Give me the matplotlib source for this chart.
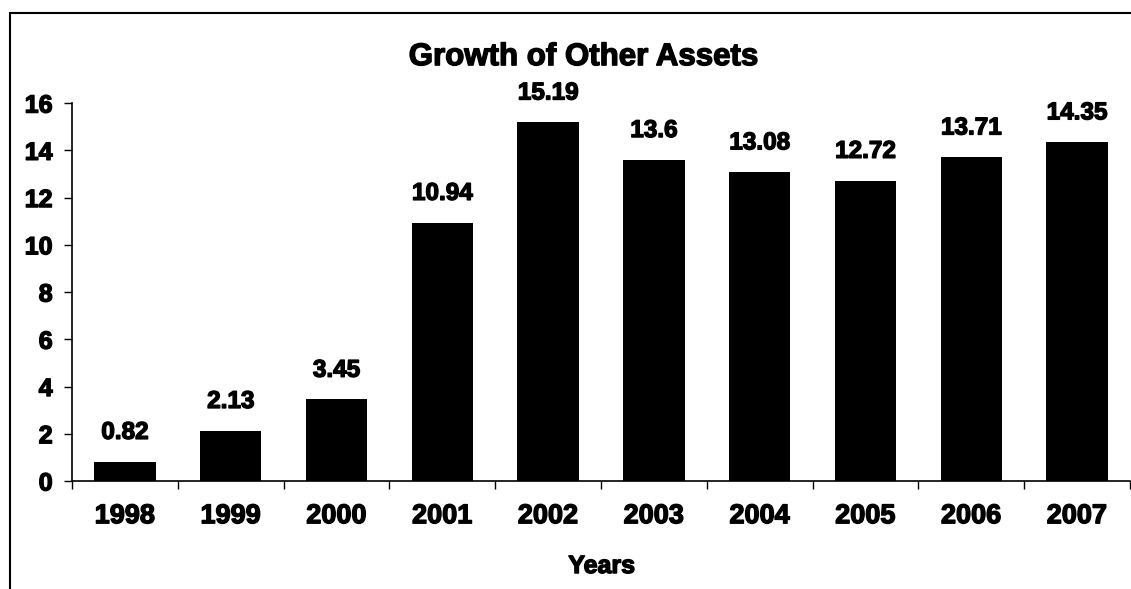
import matplotlib.pyplot as plt
import matplotlib.patheffects as pe
from matplotlib.patches import Rectangle
import numpy as np

years = ['1998', '1999', '2000', '2001', '2002', '2003', '2004', '2005', '2006', '2007']
values = [0.82, 2.13, 3.45, 10.94, 15.19, 13.6, 13.08, 12.72, 13.71, 14.35]

plt.rcParams['font.family'] = ['Liberation Sans', 'DejaVu Sans']
plt.rcParams['font.weight'] = 'bold'

# thicker strokes so the bold text reads heavy
heavy = [pe.withStroke(linewidth=1.0, foreground='black')]

fig = plt.figure(figsize=(11.31, 5.89), dpi=100)
ax = fig.add_axes([0.0637, 0.1834, 0.9353, 0.6416])

x = np.arange(len(years))
bars = ax.bar(x, values, width=0.58, color='black')
for xi, v in zip(x, values):
    ax.text(xi, v + 0.75, f'{v:g}', ha='center', va='bottom', fontsize=17.5,
            fontweight='bold', path_effects=heavy)

ax.set_xlim(-0.5, len(years) - 0.5)
ax.set_ylim(0, 16)
ax.set_yticks(range(0, 17, 2))
ax.set_xticks(x)
ax.set_xticklabels(years)
ax.set_xticks(np.arange(-0.5, len(years), 1.0), minor=True)
ax.tick_params(axis='x', which='major', length=0, pad=16, labelsize=19.5)
ax.tick_params(axis='x', which='minor', length=6, direction='out', width=1)
ax.tick_params(axis='y', length=6, width=1, pad=8, labelsize=18)
for lab in ax.get_xticklabels() + ax.get_yticklabels():
    lab.set_fontweight('bold')
    lab.set_path_effects(heavy)

ax.spines['top'].set_visible(False)
ax.spines['right'].set_visible(False)
ax.spines['left'].set_linewidth(1.2)
ax.spines['bottom'].set_linewidth(1.2)

fig.text(0.516, 0.903, 'Growth of Other Assets', ha='center', va='center', fontsize=22.5,
         fontweight='bold', path_effects=heavy)
fig.text(0.532, 0.039, 'Years', ha='center', va='center', fontsize=18,
         fontweight='bold', path_effects=heavy)

# outer chart frame
fig.patches.append(Rectangle((10 / 1131, -0.1), 1.2, 0.1 + (589 - 13) / 589,
                             transform=fig.transFigure, fill=False, edgecolor='black', linewidth=1.5))

fig.savefig('out.png', dpi=100)
